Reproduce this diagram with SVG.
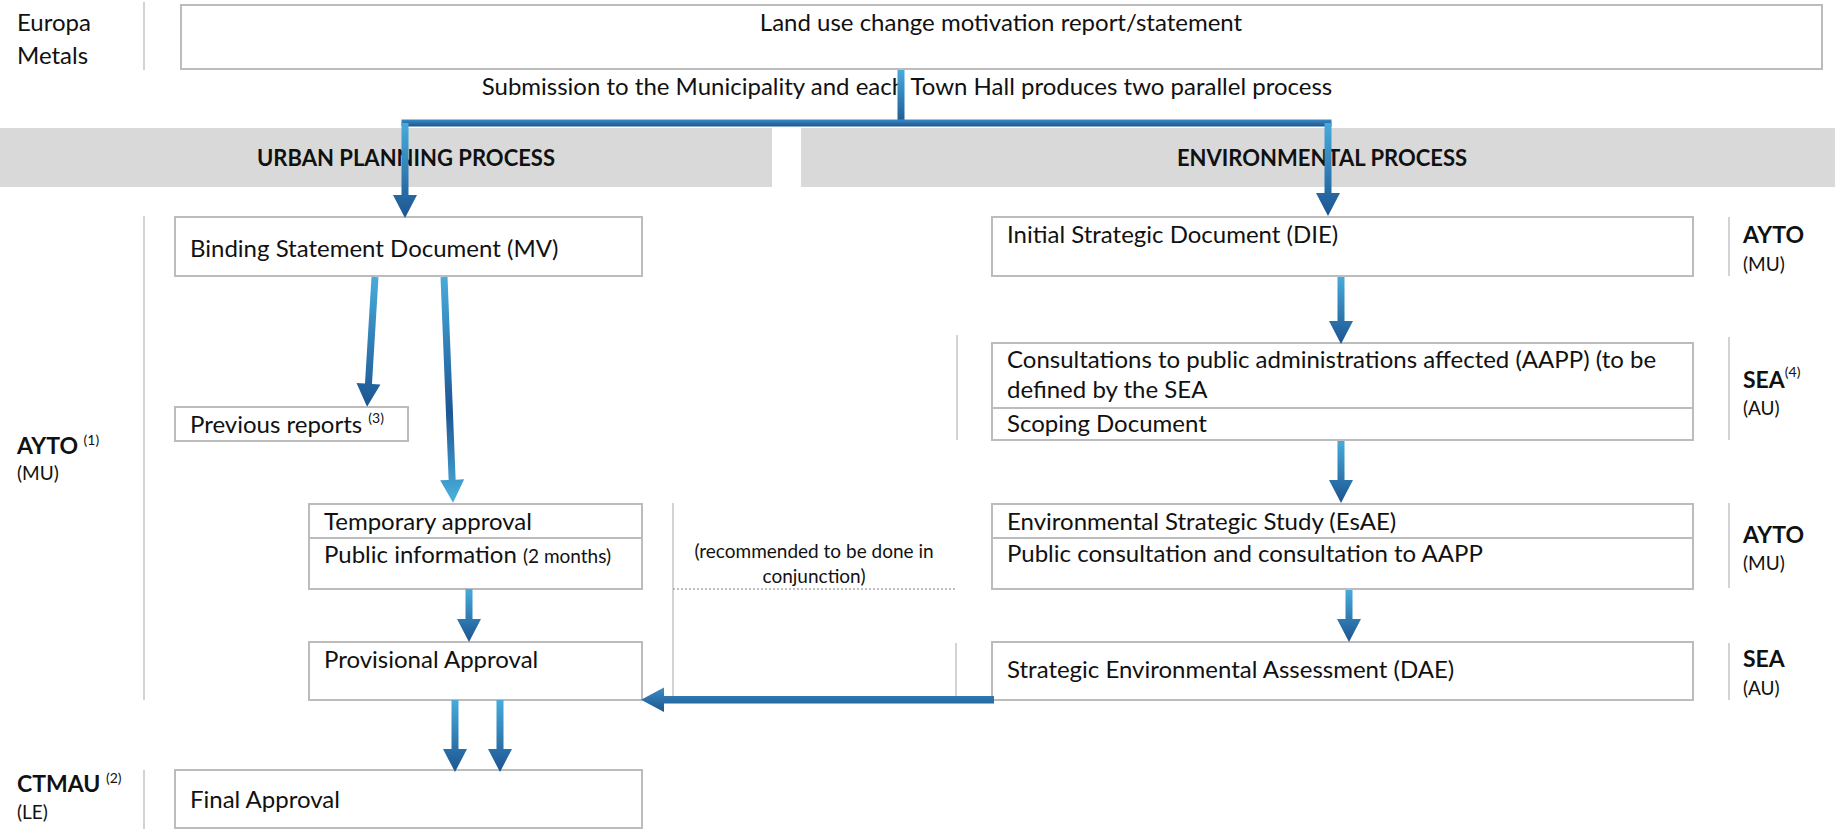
<svg xmlns="http://www.w3.org/2000/svg" width="1835" height="829" viewBox="0 0 1835 829">
<style>
text{font-family:Lato,"Liberation Sans",sans-serif;fill:#111;}
.t{font-size:24px;}
.b{font-size:22px;font-weight:bold;}
.lb{font-size:23px;font-weight:bold;}
.s{font-size:19px;}
.sup{font-size:14px;}
.box{fill:#fff;stroke:#bcbcbc;stroke-width:2;}
.div{stroke:#bcbcbc;stroke-width:2;}
.sep{stroke:#c4c4c4;stroke-width:1.5;fill:none;}
.band{fill:#d9d9d9;}
</style>
<defs>
<linearGradient id="gv" x1="0" y1="0" x2="0" y2="1">
<stop offset="0" stop-color="#47abdb"/><stop offset="1" stop-color="#1c5491"/>
</linearGradient>
<linearGradient id="gv2" x1="0" y1="0" x2="0" y2="1">
<stop offset="0" stop-color="#47abdb"/><stop offset="0.6" stop-color="#1d5694"/><stop offset="1" stop-color="#4bb2de"/>
</linearGradient>
<linearGradient id="gh" x1="0" y1="0" x2="0" y2="1">
<stop offset="0" stop-color="#3a8cc4"/><stop offset="1" stop-color="#1d5591"/>
</linearGradient>
</defs>

<rect width="1835" height="829" fill="#fff"/>

<g id="lanes">
<rect class="band" x="0" y="128" width="772" height="59"/>
<rect class="band" x="801" y="128" width="1034" height="59"/>
<text class="b" x="406" y="166" text-anchor="middle">URBAN PLANNING PROCESS</text>
<text class="b" x="1322" y="166" text-anchor="middle">ENVIRONMENTAL PROCESS</text>
<line class="sep" x1="144" y1="2" x2="144" y2="70"/>
<line class="sep" x1="144" y1="216" x2="144" y2="700"/>
<line class="sep" x1="144" y1="770" x2="144" y2="829"/>
<line class="sep" x1="673" y1="503" x2="673" y2="700"/>
<line class="sep" x1="957" y1="335" x2="957" y2="440"/>
<line class="sep" x1="956" y1="643" x2="956" y2="700"/>
<line x1="673" y1="589" x2="956" y2="589" stroke="#aaa" stroke-width="1.5" stroke-dasharray="2 2"/>
<line class="sep" x1="1729" y1="217" x2="1729" y2="276"/>
<line class="sep" x1="1729" y1="337" x2="1729" y2="440"/>
<line class="sep" x1="1729" y1="503" x2="1729" y2="588"/>
<line class="sep" x1="1729" y1="643" x2="1729" y2="700"/>
</g>

<g id="actor-europa">
<text class="t" x="17" y="31">Europa</text>
<text class="t" x="17" y="64">Metals</text>
</g>
<g id="actor-ayto-left">
<text class="lb" x="17" y="454">AYTO <tspan class="sup" font-weight="normal" dy="-9">(1)</tspan></text>
<text class="s" x="17" y="480">(MU)</text>
</g>
<g id="actor-ctmau">
<text class="lb" x="17" y="792">CTMAU <tspan class="sup" font-weight="normal" dy="-9">(2)</tspan></text>
<text class="s" x="17" y="819">(LE)</text>
</g>
<g id="actor-ayto-1">
<text class="lb" x="1743" y="243">AYTO</text>
<text class="s" x="1743" y="271">(MU)</text>
</g>
<g id="actor-sea-1">
<text class="lb" x="1743" y="388">SEA<tspan class="sup" font-weight="normal" dy="-11">(4)</tspan></text>
<text class="s" x="1743" y="415">(AU)</text>
</g>
<g id="actor-ayto-2">
<text class="lb" x="1743" y="543">AYTO</text>
<text class="s" x="1743" y="570">(MU)</text>
</g>
<g id="actor-sea-2">
<text class="lb" x="1743" y="667">SEA</text>
<text class="s" x="1743" y="695">(AU)</text>
</g>

<g id="n-motivation">
<rect class="box" x="181" y="5" width="1641" height="64"/>
<text class="t" x="1001" y="31" text-anchor="middle">Land use change motivation report/statement</text>
</g>
<g id="n-binding">
<rect class="box" x="175" y="217" width="467" height="59"/>
<text class="t" x="190" y="257">Binding Statement Document (MV)</text>
</g>
<g id="n-previous">
<rect class="box" x="175" y="407" width="233" height="34"/>
<text class="t" x="190" y="433">Previous reports <tspan class="sup" dy="-10">(3)</tspan></text>
</g>
<g id="n-temporary">
<rect class="box" x="309" y="504" width="333" height="85"/>
<line class="div" x1="309" y1="538" x2="642" y2="538"/>
<text class="t" x="324" y="530">Temporary approval</text>
<text class="t" x="324" y="563">Public information <tspan class="s">(2 months)</tspan></text>
</g>
<g id="n-provisional">
<rect class="box" x="309" y="642" width="333" height="58"/>
<text class="t" x="324" y="668">Provisional Approval</text>
</g>
<g id="n-final">
<rect class="box" x="175" y="770" width="467" height="58"/>
<text class="t" x="190" y="808">Final Approval</text>
</g>
<g id="n-note">
<text class="s" x="814" y="558" text-anchor="middle">(recommended to be done in</text>
<text class="s" x="814" y="583" text-anchor="middle">conjunction)</text>
</g>
<g id="n-die">
<rect class="box" x="992" y="217" width="701" height="59"/>
<text class="t" x="1007" y="243">Initial Strategic Document (DIE)</text>
</g>
<g id="n-consult">
<rect class="box" x="992" y="343" width="701" height="97"/>
<line class="div" x1="992" y1="408" x2="1693" y2="408"/>
<text class="t" x="1007" y="368">Consultations to public administrations affected (AAPP) (to be</text>
<text class="t" x="1007" y="398">defined by the SEA</text>
<text class="t" x="1007" y="432">Scoping Document</text>
</g>
<g id="n-esae">
<rect class="box" x="992" y="504" width="701" height="85"/>
<line class="div" x1="992" y1="538" x2="1693" y2="538"/>
<text class="t" x="1007" y="530">Environmental Strategic Study (EsAE)</text>
<text class="t" x="1007" y="562">Public consultation and consultation to AAPP</text>
</g>
<g id="n-dae">
<rect class="box" x="992" y="642" width="701" height="58"/>
<text class="t" x="1007" y="678">Strategic Environmental Assessment (DAE)</text>
</g>

<g id="connectors">
<text class="t" x="907" y="95" text-anchor="middle">Submission to the Municipality and each Town Hall produces two parallel process</text>
<rect x="897.5" y="70" width="7" height="56" fill="url(#gv)"/>
<rect x="401.5" y="119.5" width="930" height="7" fill="url(#gh)"/>
<path d="M401.5 123 L408.5 123 L408.5 195 L417 195 L405 218 L393 195 L401.5 195 Z" fill="url(#gv)"/>
<path d="M1324.5 123 L1331.5 123 L1331.5 193 L1340 193 L1328 216 L1316 193 L1324.5 193 Z" fill="url(#gv)"/>
<path transform="translate(375,277) rotate(3.5)" d="M-3.5 0 L3.5 0 L3.5 107 L12 107 L0 130 L-12 107 L-3.5 107 Z" fill="url(#gv)"/>
<path transform="translate(444,277) rotate(-2.3)" d="M-3.5 0 L3.5 0 L3.5 203 L12 203 L0 226 L-12 203 L-3.5 203 Z" fill="url(#gv2)"/>
<path d="M465.5 589 L472.5 589 L472.5 619 L481 619 L469 642 L457 619 L465.5 619 Z" fill="url(#gv)"/>
<path d="M451.5 700 L458.5 700 L458.5 749 L467 749 L455 772 L443 749 L451.5 749 Z" fill="url(#gv)"/>
<path d="M496.5 700 L503.5 700 L503.5 749 L512 749 L500 772 L488 749 L496.5 749 Z" fill="url(#gv)"/>
<path d="M1337.5 277 L1344.5 277 L1344.5 321 L1353 321 L1341 344 L1329 321 L1337.5 321 Z" fill="url(#gv)"/>
<path d="M1337.5 441 L1344.5 441 L1344.5 480 L1353 480 L1341 503 L1329 480 L1337.5 480 Z" fill="url(#gv)"/>
<path d="M1345.5 590 L1352.5 590 L1352.5 619 L1361 619 L1349 642 L1337 619 L1345.5 619 Z" fill="url(#gv)"/>
<path d="M994 696 L994 703.5 L664 703.5 L664 712 L641 699.75 L664 687.5 L664 696 Z" fill="url(#gh)"/>
</g>
</svg>
